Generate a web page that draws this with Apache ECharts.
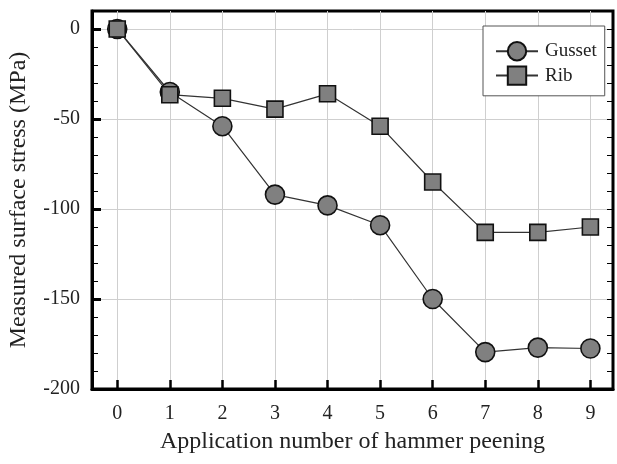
<!DOCTYPE html>
<html>
<head>
<meta charset="utf-8">
<script src="https://cdn.jsdelivr.net/npm/echarts@6/dist/echarts.min.js"></script>
<style>html,body{margin:0;padding:0;background:#fff}#c{width:617px;height:464px}</style>
</head>
<body>
<div id="c"></div>
<script>
const applications = [0, 1, 2, 3, 4, 5, 6, 7, 8, 9];
const gusset = [0, -35, -54, -92, -98, -109, -150, -179.5, -177, -177.5];
const rib = [0, -36.5, -38.5, -44.5, -36, -54, -85, -113, -113, -110];
const yMajorTicks = [-200, -150, -100, -50, 0];
const seriesNames = ['Gusset', 'Rib'];

const FONT = '"Liberation Serif", "Times New Roman", serif';
const chart = echarts.init(document.getElementById('c'), null, {renderer: 'canvas'});
const toPairs = vals => applications.map((x, i) => [x, vals[i]]);

chart.setOption({
  animation: false,
  backgroundColor: '#fff',
  grid: {left: 92, top: 11, width: 521, height: 378, containLabel: false, outerBoundsMode: 'none',
         show: true, borderColor: '#000', borderWidth: 3, backgroundColor: 'transparent'},
  legend: {
    orient: 'vertical', left: 483, top: 26,
    padding: [15, 8, 10, 12], itemGap: 4, itemWidth: 42, itemHeight: 23,
    backgroundColor: '#fff', borderColor: '#555', borderWidth: 1,
    textStyle: {fontFamily: FONT, fontSize: 19, color: '#222', padding: [0, 0, 0, 2]},
    data: seriesNames
  },
  xAxis: {
    type: 'value', min: -0.48, max: 9.43,
    name: 'Application number of hammer peening', nameLocation: 'middle', nameGap: 41,
    nameTextStyle: {fontFamily: FONT, fontSize: 24, color: '#222'},
    axisLine: {show: true, onZero: false, lineStyle: {color: '#000', width: 3}},
    axisTick: {show: true, inside: true, length: 9, customValues: applications, lineStyle: {color: '#000', width: 2.5}},
    axisLabel: {customValues: applications, fontFamily: FONT, fontSize: 20, color: '#222', margin: 15},
    splitLine: {show: true, lineStyle: {color: '#cfcfcf', width: 1}}
  },
  yAxis: [
    {
      type: 'value', min: -200, max: 10, position: 'left',
      name: 'Measured surface stress (MPa)', nameLocation: 'middle', nameGap: 61,
      nameTextStyle: {fontFamily: FONT, fontSize: 24, color: '#222'},
      axisLine: {show: true, onZero: false, lineStyle: {color: '#000', width: 3}},
      axisTick: {show: true, inside: true, length: 9, customValues: yMajorTicks, lineStyle: {color: '#000', width: 3}},
      axisLabel: {customValues: yMajorTicks, fontFamily: FONT, fontSize: 20, color: '#222', margin: 12},
      splitLine: {show: true, lineStyle: {color: '#cfcfcf', width: 1}}
    },
    {
      type: 'value', min: -200, max: 10, interval: 10, position: 'left', offset: 0,
      axisLine: {show: false, onZero: false}, axisLabel: {show: false}, splitLine: {show: false},
      axisTick: {show: true, inside: true, length: 6, lineStyle: {color: '#000', width: 1}}
    },
    {
      type: 'value', min: -200, max: 10, interval: 10, position: 'right', offset: 0,
      axisLine: {show: false, onZero: false}, axisLabel: {show: false}, splitLine: {show: false},
      axisTick: {show: true, inside: true, length: 6, lineStyle: {color: '#000', width: 1}}
    }
  ],
  series: [
    {
      name: seriesNames[0], type: 'line', yAxisIndex: 0, data: toPairs(gusset),
      symbol: 'circle', symbolSize: 19,
      lineStyle: {color: '#333', width: 1.2},
      itemStyle: {color: '#808080', borderColor: '#111', borderWidth: 1.6}
    },
    {
      name: seriesNames[1], type: 'line', yAxisIndex: 0, data: toPairs(rib),
      symbol: 'rect', symbolSize: 16,
      lineStyle: {color: '#333', width: 1.2},
      itemStyle: {color: '#808080', borderColor: '#111', borderWidth: 1.6}
    }
  ]
});
</script>
</body>
</html>
